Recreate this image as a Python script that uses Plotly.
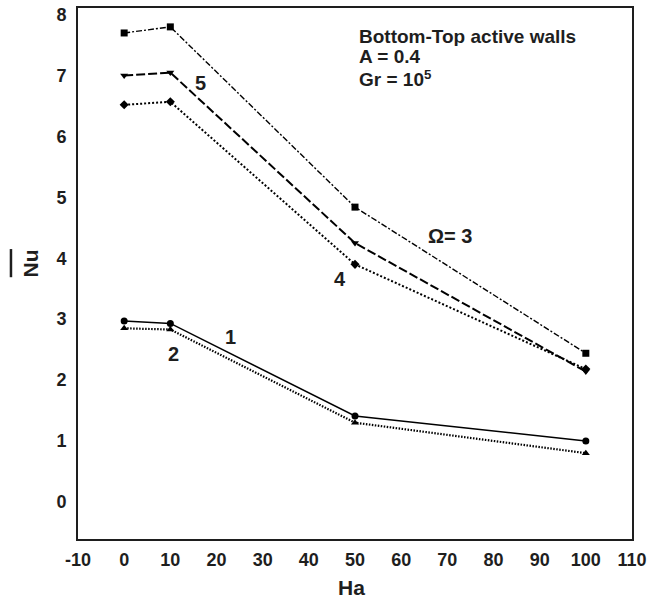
import plotly.graph_objects as go

ha = [0, 10, 50, 100]

nu_omega3 = [7.70, 7.80, 4.84, 2.44]
nu_omega5 = [7.00, 7.05, 4.25, 2.14]
nu_omega4 = [6.52, 6.57, 3.90, 2.18]
nu_case1 = [2.97, 2.93, 1.41, 1.00]
nu_case2 = [2.85, 2.83, 1.30, 0.80]

x_ticks = [-10, 0, 10, 20, 30, 40, 50, 60, 70, 80, 90, 100, 110]
x_tick_text = [str(v) for v in x_ticks]
y_ticks = [0, 1, 2, 3, 4, 5, 6, 7, 8]

FONT = "Liberation Sans, Arial, sans-serif"
INK = "#1e1e1e"

# (values, marker symbol, dash pattern, line width, marker size)
series = [
    (nu_omega3, "square", "6px,2px,2px,2px", 1.4, 7),
    (nu_omega5, "triangle-down", "9px,3px", 2.0, 7),
    (nu_omega4, "diamond", "2px,2px", 2.0, 7),
    (nu_case1, "circle", "solid", 1.4, 7),
    (nu_case2, "triangle-up", "1.5px,1.5px", 2.2, 7),
]

fig = go.Figure()
for ys, sym, dash, lw, ms in series:
    fig.add_trace(go.Scatter(
        x=ha, y=ys, mode="lines+markers",
        line=dict(color="black", width=lw, dash=dash),
        marker=dict(symbol=sym, size=ms, color="black"),
        showlegend=False,
    ))

def bold(size):
    return dict(family=FONT, size=size, color=INK, weight="bold")

def label(x, y, text, size=20, xanchor="center"):
    fig.add_annotation(x=x, y=y, xref="x", yref="y", text=text, showarrow=False,
                       xanchor=xanchor, yanchor="middle", font=bold(size))

label(16.5, 6.88, "5")
label(70.5, 4.36, "Ω= 3")
label(46.8, 3.66, "4")
label(23.0, 2.70, "1")
label(10.6, 2.43, "2")

for yy, txt in [(7.64, "Bottom-Top active walls"), (7.31, "A = 0.4"), (6.95, "Gr = 10<sup>5</sup>")]:
    fig.add_annotation(x=50.5, y=yy, xref="x", yref="y", text=txt, showarrow=False,
                       xanchor="left", yanchor="middle", height=19, font=bold(19))

# axis titles; the y title carries an overbar
fig.add_annotation(x=-0.0857, y=0.518, xref="paper", yref="paper", text="Nu", showarrow=False,
                   textangle=-90, xanchor="center", yanchor="middle", font=bold(21))
fig.add_shape(type="line", xref="paper", yref="paper", x0=-0.121, x1=-0.121,
              y0=0.493, y1=0.546, line=dict(color=INK, width=2.5))
fig.add_annotation(x=0.493, y=-0.092, xref="paper", yref="paper", text="Ha", showarrow=False,
                   xanchor="center", yanchor="middle", font=bold(21))

axis_common = dict(showline=True, linecolor=INK, linewidth=2, mirror=True,
                   showgrid=False, zeroline=False, ticks="", automargin=False,
                   tickfont=bold(18))

fig.update_xaxes(range=[-10, 110], tickvals=x_ticks, ticktext=x_tick_text,
                 ticklabelstandoff=3, **axis_common)
fig.update_yaxes(range=[-0.61, 8.11], tickvals=y_ticks, ticklabelstandoff=6, **axis_common)

fig.update_layout(width=649, height=602, margin=dict(l=78, r=17, t=8, b=63),
                  plot_bgcolor="white", paper_bgcolor="white")

fig.write_html("out.html")
